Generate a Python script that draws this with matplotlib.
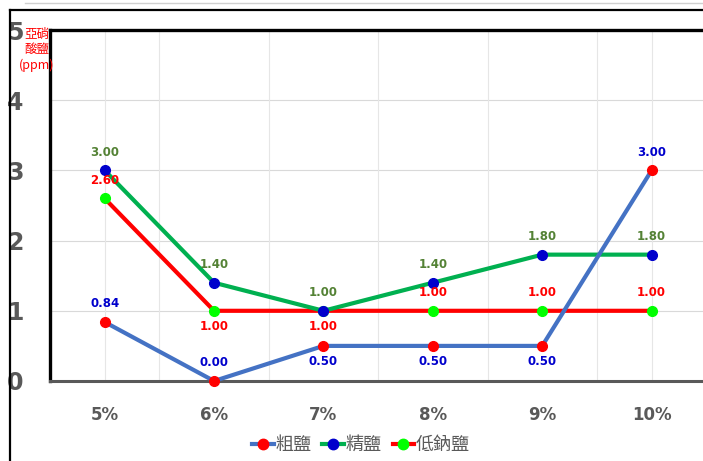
import numpy as np
import matplotlib.pyplot as plt
from matplotlib.lines import Line2D

plt.rcParams['font.family'] = ['DejaVu Sans', 'Noto Sans CJK TC']

categories = ['5%', '6%', '7%', '8%', '9%', '10%']
coarse = [0.84, 0.00, 0.50, 0.50, 0.50, 3.00]      # 粗鹽
refined = [3.00, 1.40, 1.00, 1.40, 1.80, 1.80]     # 精鹽
low_na = [2.60, 1.00, 1.00, 1.00, 1.00, 1.00]      # 低鈉鹽
names = ['粗鹽', '精鹽', '低鈉鹽']

# label placement: +1 above the point, -1 below
coarse_pos = [1, 1, -1, -1, -1, 1]
refined_pos = [1, 1, 1, 1, 1, 1]
low_na_pos = [1, -1, -1, 1, 1, 1]

W, H = 703, 461
fig = plt.figure(figsize=(W / 100, H / 100), dpi=100)
ax = fig.add_axes([50 / W, 1 - 381 / H, (W - 50) / W, (381 - 30) / H])

x = np.arange(len(categories))

series = [
    (coarse, coarse_pos, '#4472C4', '#FF0000', '#0000CC', 5),
    (refined, refined_pos, '#00B050', '#0000CC', '#548235', 4),
    (low_na, low_na_pos, '#FF0000', '#00FF00', '#FF0000', 3),
]

handles = []
for (vals, pos, lc, mc, tc, z), name in zip(series, names):
    ax.plot(x, vals, color=lc, lw=3, marker='o', ms=7, mfc=mc, mec=mc,
            zorder=z, clip_on=False)
    handles.append(Line2D([], [], color=lc, lw=3, marker='o', ms=7.5,
                          mfc=mc, mec=mc, label=name))
    for xi, v, p in zip(x, vals, pos):
        ax.annotate('%.2f' % v, (xi, v), xytext=(0, 13 if p > 0 else -11),
                    textcoords='offset points', ha='center', va='center',
                    color=tc, fontsize=8.5, fontweight='bold', zorder=10,
                    annotation_clip=False)

ax.set_xlim(-0.5, 5.47)
ax.set_ylim(0, 5)

# gridlines
for gy in range(1, 5):
    ax.axhline(gy, color='#D9D9D9', lw=0.8, zorder=0)
for gx in [0, 0.5, 1.5, 2.5, 3.5, 4.5, 5]:
    ax.axvline(gx, color='#E6E6E6', lw=0.8, zorder=0)

ax.set_xticks(x)
ax.set_xticklabels(categories, fontsize=12, fontweight='bold', color='#595959')
ax.set_yticks(range(6))
ax.set_yticklabels([str(i) for i in range(6)], fontsize=17, fontweight='bold',
                   color='#595959')
ax.tick_params(axis='x', length=0, pad=18)
ax.tick_params(axis='y', length=0, pad=19)

for s in ['left', 'top']:
    ax.spines[s].set_linewidth(2.4)
    ax.spines[s].set_color('black')
ax.spines['bottom'].set_linewidth(2.2)
ax.spines['bottom'].set_color('#595959')
ax.spines['right'].set_visible(False)

# unit label
fig.text(37 / W, 1 - 50 / H, '亞硝\n酸鹽\n(ppm)', color='#FF0000', fontsize=9,
         ha='center', va='center', linespacing=1.2,
         family=['Noto Sans CJK TC', 'DejaVu Sans'])

# outer frame lines
fig.add_artist(Line2D([10 / W, 10 / W], [0, 1 - 10 / H], color='black', lw=1.6,
                      transform=fig.transFigure))
fig.add_artist(Line2D([10 / W, 1], [1 - 10 / H, 1 - 10 / H], color='black', lw=1.6,
                      transform=fig.transFigure))
fig.add_artist(Line2D([25 / W, 1], [1 - 3 / H, 1 - 3 / H], color='#D0D0D0', lw=1,
                      transform=fig.transFigure))

leg = fig.legend(handles=handles, loc='center', bbox_to_anchor=(361 / W, 1 - 445 / H),
                 ncol=3, frameon=False, handlelength=1.2, handletextpad=0.1,
                 columnspacing=0.6, prop={'family': ['Noto Sans CJK TC'], 'size': 13})
for t in leg.get_texts():
    t.set_color('#595959')

fig.savefig('out.png', dpi=100)
